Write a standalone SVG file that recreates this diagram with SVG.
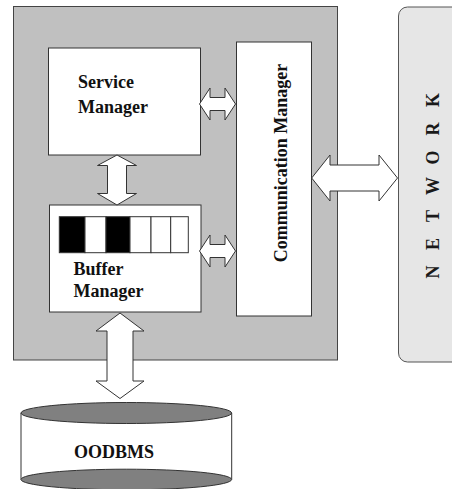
<svg xmlns="http://www.w3.org/2000/svg" width="452" height="489" viewBox="0 0 452 489">
<style>
.box{fill:#ffffff;stroke:#333333;stroke-width:1}
.lbl{font-family:"Liberation Serif","Times New Roman",serif;font-weight:bold;font-size:18px;fill:#111111}
.net{font-family:"Liberation Serif","Times New Roman",serif;font-weight:bold;font-size:18px;fill:#1a1a1a}
.arrow{fill:#ffffff;stroke:#333333;stroke-width:1;stroke-linejoin:miter}
</style>
<rect width="452" height="489" fill="#ffffff"/>
<g id="server">
<rect x="13.5" y="6.5" width="324" height="353.5" fill="#c0c0c0" stroke="#444444" stroke-width="1"/>
</g>
<g id="network">
<rect x="398.5" y="7" width="70" height="355" rx="9" ry="9" fill="#e6e6e6" stroke="#555555" stroke-width="1"/>
<text class="net" text-anchor="middle" transform="translate(438.5,272) rotate(-90)">N</text>
<text class="net" text-anchor="middle" transform="translate(438.5,244) rotate(-90)">E</text>
<text class="net" text-anchor="middle" transform="translate(438.5,216) rotate(-90)">T</text>
<text class="net" text-anchor="middle" transform="translate(438.5,186) rotate(-90)">W</text>
<text class="net" text-anchor="middle" transform="translate(438.5,157.5) rotate(-90)">O</text>
<text class="net" text-anchor="middle" transform="translate(438.5,129) rotate(-90)">R</text>
<text class="net" text-anchor="middle" transform="translate(438.5,100) rotate(-90)">K</text>
</g>
<g id="service-manager">
<rect class="box" x="48.5" y="48" width="152" height="107"/>
<text class="lbl" x="78" y="88">Service</text>
<text class="lbl" x="78" y="113">Manager</text>
</g>
<g id="communication-manager">
<rect class="box" x="236.5" y="42" width="75" height="274"/>
<text class="lbl" text-anchor="middle" transform="translate(287,163) rotate(-90)">Communication Manager</text>
</g>
<g id="buffer-manager">
<rect class="box" x="49.5" y="205" width="151.5" height="107"/>
<rect x="59.3" y="216.7" width="25.7" height="36" fill="#000000" stroke="#333333" stroke-width="1"/>
<rect x="85" y="216.7" width="21" height="36" fill="#ffffff" stroke="#333333" stroke-width="1"/>
<rect x="106" y="216.7" width="24" height="36" fill="#000000" stroke="#333333" stroke-width="1"/>
<rect x="130" y="216.7" width="21" height="36" fill="#ffffff" stroke="#333333" stroke-width="1"/>
<rect x="151" y="216.7" width="19.7" height="36" fill="#ffffff" stroke="#333333" stroke-width="1"/>
<rect x="170.7" y="216.7" width="17.6" height="36" fill="#ffffff" stroke="#333333" stroke-width="1"/>
<text class="lbl" x="73.5" y="275">Buffer</text>
<text class="lbl" x="73.5" y="297">Manager</text>
</g>
<g id="oodbms">
<rect x="21" y="413" width="210.7" height="66.5" fill="#ffffff" stroke="none"/>
<line x1="21" y1="413" x2="21" y2="479.5" stroke="#333333" stroke-width="1"/>
<line x1="231.7" y1="413" x2="231.7" y2="479.5" stroke="#333333" stroke-width="1"/>
<ellipse cx="126.3" cy="479.5" rx="105.3" ry="10.3" fill="#808080" stroke="#333333" stroke-width="1"/>
<ellipse cx="126.3" cy="413" rx="105.3" ry="10.5" fill="#808080" stroke="#333333" stroke-width="1"/>
<text class="lbl" x="74" y="458">OODBMS</text>
</g>
<g id="connectors">
<polygon class="arrow" points="199.5,104 210,88 210,97.5 225,97.5 225,88 235.5,104 225,120 225,110.5 210,110.5 210,120"/>
<polygon class="arrow" points="199.5,251 210,235 210,244.5 225,244.5 225,235 235.5,251 225,267 225,257.5 210,257.5 210,267"/>
<polygon class="arrow" points="311.7,178 330,155 330,165 379,165 379,155 397.5,178 379,201 379,191 330,191 330,201"/>
<polygon class="arrow" points="117,155 136.5,165.5 126.5,165.5 126.5,193.5 136.5,193.5 117,205 97.5,193.5 107.5,193.5 107.5,165.5 97.5,165.5"/>
<polygon class="arrow" points="120,313 144,331 133,331 133,381 144,381 120,398.5 96,381 107,381 107,331 96,331"/>
</g>
</svg>
